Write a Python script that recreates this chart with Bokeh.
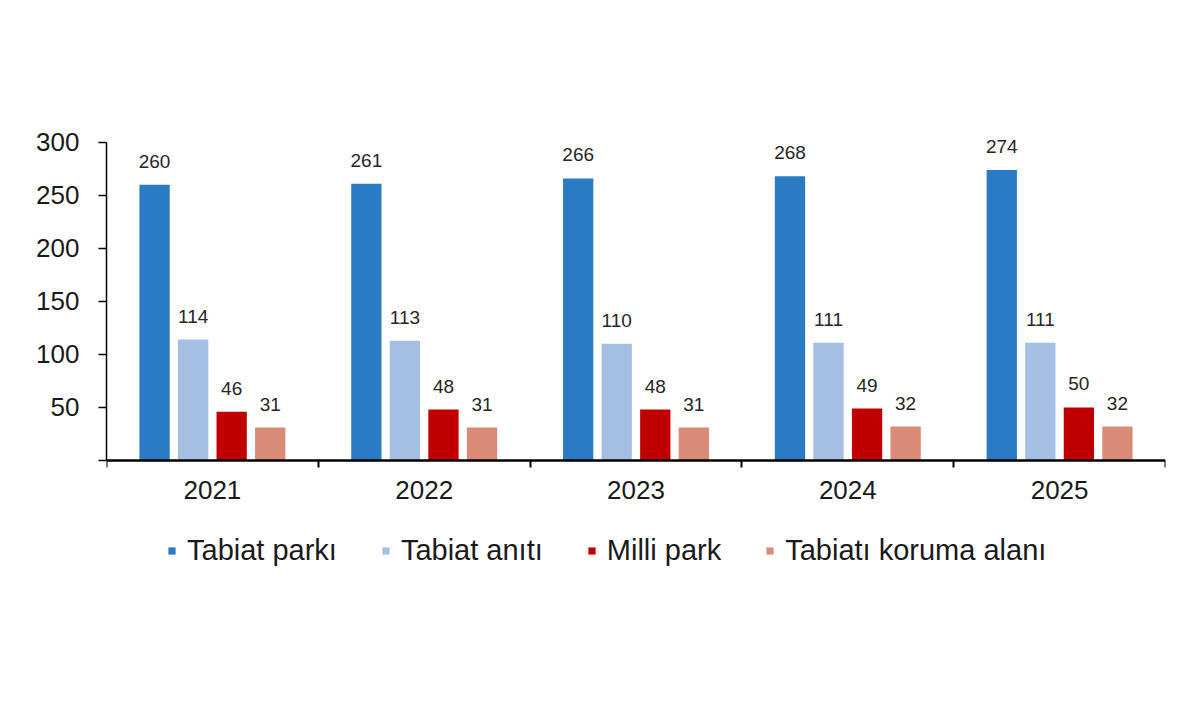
from bokeh.plotting import figure
from bokeh.models import (ColumnDataSource, FixedTicker, Legend, LegendItem, Range1d)
from bokeh.core.properties import value
from bokeh.embed import file_html
from bokeh.resources import INLINE

years = ["2021", "2022", "2023", "2024", "2025"]
series_names = ["Tabiat parkı", "Tabiat anıtı", "Milli park", "Tabiatı koruma alanı"]
tabiat_parki = [260, 261, 266, 268, 274]
tabiat_aniti = [114, 113, 110, 111, 111]
milli_park = [46, 48, 48, 49, 50]
koruma_alani = [31, 31, 31, 32, 32]
y_ticks = [0, 50, 100, 150, 200, 250, 300]

series_values = [tabiat_parki, tabiat_aniti, milli_park, koruma_alani]
colors = ["#2A7BC3", "#A4BFE3", "#C00000", "#DA8B77"]
offsets = [-0.273, -0.091, 0.091, 0.273]
bar_w = 0.143

p = figure(frame_width=1059, frame_height=466, output_backend="svg", toolbar_location=None,
           x_range=Range1d(0, len(years)), y_range=Range1d(-124.5, 315),
           min_border_left=106, min_border_top=126, min_border_right=20,
           min_border_bottom=0)
p.outline_line_color = None
p.xgrid.visible = False
p.ygrid.visible = False
p.background_fill_color = "white"
p.border_fill_color = "white"

font = "Liberation Sans"
items = []
for name, vals, col, off in zip(series_names, series_values, colors, offsets):
    xs = [i + 0.5 + off for i in range(len(years))]
    src = ColumnDataSource(dict(x=xs, top=vals, lab=[str(v) for v in vals]))
    r = p.vbar(x="x", top="top", width=bar_w, bottom=0, source=src,
               fill_color=col, line_color=None)
    p.text(x="x", y="top", text="lab", source=src, text_align="center",
           text_baseline="bottom", y_offset=-17, text_font_size="19px",
           text_font=value(font), text_color="#262626")
    items.append(LegendItem(label=name, renderers=[r]))

# y axis
yax = p.yaxis[0]
yax.ticker = FixedTicker(ticks=y_ticks, minor_ticks=[])
yax.bounds = (0, 300)
yax.major_label_overrides = {0: ""}
yax.major_tick_out = 8
yax.major_tick_in = 0
yax.major_tick_line_width = 1.5
yax.axis_line_width = 1.5
yax.major_label_text_font = font
yax.major_label_text_font_size = "26px"
yax.major_label_text_color = "#1a1a1a"
yax.major_label_standoff = 19

# x axis (drawn at y = 0)
xax = p.xaxis[0]
xax.fixed_location = 0
xax.ticker = FixedTicker(ticks=[i + 0.5 for i in range(len(years))],
                         minor_ticks=list(range(len(years) + 1)))
xax.major_label_overrides = {i + 0.5: y for i, y in enumerate(years)}
xax.major_tick_out = 0
xax.major_tick_in = 0
xax.minor_tick_out = 7
xax.minor_tick_in = 0
xax.minor_tick_line_width = 2
xax.axis_line_width = 2.5
xax.major_label_text_font = font
xax.major_label_text_font_size = "26px"
xax.major_label_text_color = "#1a1a1a"
xax.major_label_standoff = 14

legend = Legend(items=items, orientation="horizontal", location=(61, 25),
                label_text_font=font, label_text_font_size="29px",
                label_text_color="#1a1a1a",
                glyph_width=9, glyph_height=9, label_standoff=11, spacing=44,
                border_line_color=None, background_fill_alpha=0,
                margin=0, padding=0)
p.add_layout(legend)

open("out.html", "w").write(file_html(p, INLINE))
